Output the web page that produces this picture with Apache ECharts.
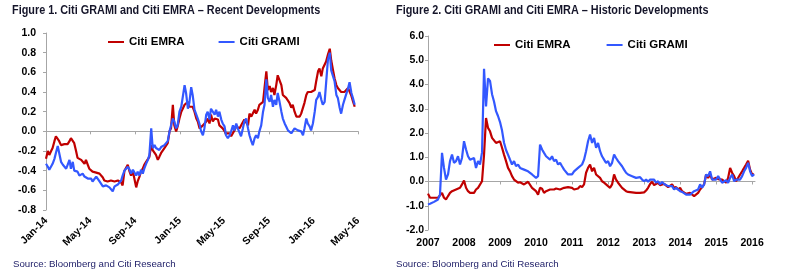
<!DOCTYPE html>
<html><head><meta charset="utf-8">
<script src="https://cdn.jsdelivr.net/npm/echarts@6/dist/echarts.min.js"></script>
<style>html,body{margin:0;padding:0;background:#fff}#c{width:786px;height:274px}</style>
</head><body><div id="c"></div>
<script>
// ---------- Figure 1: recent developments (x = days since 2014-01-01) ----------
const recentDays = [0,5,9,14,18,23,27,32,36,41,46,50,55,59,64,68,73,77,82,86,
91,96,100,105,109,114,118,123,127,132,137,141,146,150,155,159,164,168,173,177,
182,187,191,196,200,205,209,214,218,223,228,232,237,241,246,250,255,259,264,268,
273,278,282,287,291,296,300,305,309,314,319,323,328,332,337,341,346,350,355,359,
364,369,373,378,382,387,391,396,400,405,410,414,419,423,428,432,437,441,446,450,
455,460,464,469,473,478,482,487,491,496,501,505,510,514,519,523,528,532,537,541,
546,551,555,560,564,569,573,578,582,587,592,596,601,605,610,614,619,623,628,632,
637,642,646,651,655,660,664,669,673,678,683,687,692,696,701,705,710,714,719,723,
728,733,737,742,746,751,755,760,764,769,774,778,783,787,792,796,801,805,810,814,
819,824,828,833,837,842];
const recentEMRA = [-0.28,-0.20,-0.24,-0.20,-0.17,-0.10,-0.05,-0.06,-0.10,-0.14,
-0.12,-0.13,-0.11,-0.13,-0.10,-0.07,-0.07,-0.12,-0.20,-0.27,-0.26,-0.29,-0.28,-0.33,-0.29,
-0.34,-0.38,-0.39,-0.41,-0.43,-0.42,-0.41,-0.43,-0.44,-0.47,-0.50,-0.50,-0.51,-0.50,-0.50,
-0.51,-0.51,-0.50,-0.50,-0.52,-0.52,-0.55,
-0.40,-0.41,-0.34,-0.41,-0.45,-0.41,-0.48,-0.57,-0.51,-0.46,-0.41,-0.38,-0.34,-0.31,-0.29,
-0.26,-0.14,-0.19,-0.19,-0.24,-0.29,-0.26,-0.22,-0.21,-0.17,-0.17,-0.12,0.00,0.03,0.27,
0.06,0.00,0.05,0.13,0.20,0.23,0.27,0.25,0.30,0.25,0.24,0.25,0.20,0.13,0.10,0.03,0.03,0.06,
0.08,0.10,0.13,0.08,0.17,0.10,0.13,0.15,0.12,0.06,0.08,0.03,0.03,-0.02,-0.04,-0.02,
-0.05,-0.04,0.01,0.05,0.06,0.03,0.06,0.05,0.12,0.13,0.06,0.18,0.15,0.13,0.22,0.18,
0.22,0.27,0.25,0.30,0.44,0.61,0.42,0.46,0.40,0.44,0.37,0.47,0.57,0.59,0.47,0.37,
0.35,0.34,0.32,0.29,0.24,0.27,0.20,0.15,0.13,0.15,0.18,0.20,0.29,0.37,0.40,0.39,0.40,
0.39,0.42,0.51,0.61,0.64,0.56,0.64,0.63,0.71,0.78,0.84,0.72,0.62,0.54,0.47,0.44,0.42,
0.40,0.42,0.40,0.42,0.44,0.42,0.36,0.31,0.25];
const recentGRAMI = [-0.33,-0.36,-0.39,-0.38,-0.33,-0.28,-0.22,-0.15,-0.14,-0.31,
-0.34,-0.36,-0.38,-0.34,-0.29,-0.38,-0.31,-0.40,-0.41,-0.41,-0.45,-0.46,-0.43,-0.46,-0.46,
-0.48,-0.46,-0.48,-0.51,-0.50,-0.46,-0.48,-0.51,-0.51,-0.56,-0.58,-0.55,-0.56,-0.57,-0.58,
-0.61,-0.56,-0.55,-0.54,-0.53,-0.50,-0.45,
-0.40,-0.41,-0.36,-0.39,-0.43,-0.39,-0.41,-0.45,-0.41,-0.45,-0.39,-0.43,-0.38,-0.33,-0.29,
-0.24,0.03,-0.17,-0.14,-0.17,-0.16,-0.19,-0.16,-0.17,-0.14,-0.16,-0.10,0.00,0.06,0.13,
0.10,0.03,0.06,0.20,0.25,0.23,0.47,0.39,0.23,0.29,0.45,0.37,0.22,0.17,0.13,0.07,0.00,-0.04,
0.03,0.17,0.20,0.12,0.23,0.25,0.17,0.22,0.15,0.20,0.12,0.08,0.05,-0.04,-0.07,-0.04,
0.00,0.06,0.01,0.08,0.03,0.01,-0.05,0.03,0.10,0.13,0.03,-0.04,-0.10,-0.14,-0.07,-0.04,
-0.07,0.00,0.06,0.20,0.27,0.53,0.34,0.30,0.37,0.25,0.32,0.27,0.39,0.30,0.20,0.13,
0.08,0.05,0.01,0.03,-0.02,0.00,0.03,0.05,0.01,0.03,0.00,-0.04,0.03,0.13,0.08,0.05,0.01,
0.08,0.20,0.32,0.35,0.40,0.32,0.27,0.30,0.49,0.73,0.80,0.62,0.60,0.51,0.37,0.34,0.24,
0.18,0.27,0.32,0.34,0.44,0.50,0.39,0.34,0.27];
const recentTickDays = [0,120,243,365,485,608,730,851];
const recentTickLabels = ['Jan-14','May-14','Sep-14','Jan-15','May-15','Sep-15','Jan-16','May-16'];

// ---------- Figure 2: historic developments (x = decimal years) ----------
const histYears = [
2007.000,2007.056,2007.111,2007.167,2007.222,2007.278,2007.333,2007.389,2007.444,2007.500,2007.556,2007.611,2007.667,2007.722,2007.778,2007.833,2007.889,2007.944,
2008.000,2008.056,2008.111,2008.167,2008.222,2008.278,2008.333,2008.389,2008.444,2008.500,2008.556,2008.611,2008.667,2008.722,2008.778,2008.833,2008.889,2008.944,
2009.000,2009.056,2009.111,2009.167,2009.222,2009.278,2009.333,2009.389,2009.444,2009.500,2009.556,2009.611,2009.667,2009.722,2009.778,2009.833,2009.889,2009.944,
2010.000,2010.056,2010.111,2010.167,2010.222,2010.278,2010.333,2010.389,2010.444,2010.500,2010.556,2010.611,2010.667,2010.722,2010.778,2010.833,2010.889,2010.944,
2011.000,2011.056,2011.111,2011.167,2011.222,2011.278,2011.333,2011.389,2011.444,2011.500,2011.556,2011.611,2011.667,2011.722,2011.778,2011.833,2011.889,2011.944,
2012.000,2012.056,2012.111,2012.167,2012.222,2012.278,2012.333,2012.389,2012.444,2012.500,2012.556,2012.611,2012.667,2012.722,2012.778,2012.833,2012.889,2012.944,
2013.000,2013.056,2013.111,2013.167,2013.222,2013.278,2013.333,2013.389,2013.444,2013.500,2013.556,2013.611,2013.667,2013.722,2013.778,2013.833,2013.889,2013.944,
2014.000,2014.056,2014.111,2014.167,2014.222,2014.278,2014.333,2014.389,2014.444,2014.500,2014.556,2014.611,2014.667,2014.722,2014.778,2014.833,2014.889,2014.944,
2015.000,2015.056,2015.111,2015.167,2015.222,2015.278,2015.333,2015.389,2015.444,2015.500,2015.556,2015.611,2015.667,2015.722,2015.778,2015.833,2015.889,2015.944,
2016.000,2016.056];
const histEMRA = [-0.50,-0.67,-0.70,-0.67,-0.70,-0.67,-0.60,-0.47,-0.67,-0.74,
-0.60,-0.47,-0.40,-0.43,-0.33,-0.37,-0.26,-0.12,0.04,-0.26,
-0.40,-0.47,-0.54,-0.47,-0.33,-0.26,-0.30,0.01,1.11,2.62,
2.21,2.07,1.80,1.87,1.59,1.52,1.66,1.39,1.11,0.84,
0.56,0.42,0.22,0.08,0.01,-0.05,-0.03,-0.05,-0.12,-0.09,
-0.01,-0.08,-0.26,-0.33,-0.40,-0.54,-0.26,-0.30,-0.47,-0.40,
-0.37,-0.33,-0.37,-0.33,-0.29,-0.37,-0.33,-0.29,-0.26,-0.33,
-0.23,-0.29,-0.26,-0.33,-0.26,-0.29,-0.19,-0.23,-0.12,0.36,0.56,
0.70,0.42,0.56,0.29,0.36,0.15,0.01,-0.05,-0.12,-0.19,
-0.26,-0.12,0.29,0.08,-0.05,-0.12,-0.26,-0.33,-0.40,-0.43,
-0.47,-0.45,-0.51,-0.47,-0.45,-0.47,-0.40,-0.45,-0.37,-0.26,
-0.10,-0.01,-0.15,-0.12,-0.05,-0.15,-0.12,-0.10,-0.15,-0.23,-0.19,
-0.12,-0.26,-0.23,-0.33,-0.26,-0.40,-0.47,-0.51,-0.54,-0.47,
-0.54,-0.60,-0.60,-0.47,-0.33,-0.23,-0.12,0.29,0.15,0.29,
0.08,0.01,0.15,0.10,0.05,0.08,0.03,-0.05,0.15,0.56,
0.36,0.22,0.01,0.08,0.29,0.42,0.56,0.70,0.86,0.49,0.29,0.30];
const histGRAMI = [-0.95,-0.92,-0.95,-0.84,-0.88,-0.74,-0.54,1.18,0.56,0.08,
0.29,0.84,1.11,0.77,0.84,1.04,0.70,0.97,1.66,1.32,
1.04,0.90,0.84,0.97,0.56,0.84,0.70,1.20,4.65,3.10,
4.25,4.15,3.60,3.30,2.90,2.70,2.45,2.10,1.60,1.30,
1.11,0.90,0.70,0.84,0.63,0.70,0.56,0.63,0.49,0.56,
0.42,0.49,0.29,0.22,0.15,0.22,1.52,1.32,1.18,1.04,
1.11,0.90,1.04,0.84,0.90,0.70,0.77,0.63,0.49,0.42,
0.29,0.36,0.29,0.42,0.36,0.56,0.49,0.70,0.90,1.25,1.66,
1.94,1.59,1.80,1.39,1.59,1.25,1.04,0.90,0.77,0.84,
0.63,0.77,1.11,0.97,0.84,0.90,0.63,0.49,0.36,0.29,
0.32,0.22,0.29,0.15,0.08,0.18,0.08,0.01,0.08,-0.01,
0.08,0.01,0.08,-0.05,0.01,-0.12,-0.02,-0.10,-0.15,-0.19,-0.23,
-0.19,-0.33,-0.26,-0.29,-0.40,-0.43,-0.47,-0.54,-0.60,-0.54,
-0.47,-0.40,-0.47,-0.33,-0.12,-0.26,-0.12,0.29,0.22,0.42,
0.08,0.01,0.08,0.22,0.15,-0.05,0.00,0.05,-0.05,0.15,
0.29,0.01,0.08,0.15,0.08,0.22,0.42,0.56,0.77,0.42,0.22,0.30];
const histTickYears = [2007,2008,2009,2010,2011,2012,2013,2014,2015,2016];

const seriesNames = ['Citi EMRA','Citi GRAMI'];
const titleTexts = ['Figure 1. Citi GRAMI and Citi EMRA \u2013 Recent Developments',
                    'Figure 2. Citi GRAMI and Citi EMRA \u2013 Historic Developments'];
const sourceText = 'Source: Bloomberg and Citi Research';

// ---------- styling ----------
const RED = '#C00000', BLUE = '#3358FF', GRAY = '#A6A6A6';
const sans = '"Liberation Sans", Arial, sans-serif';
const lbl = {fontFamily: sans, fontWeight: 'bold', fontSize: 10.5, color: '#000'};
const pairs = (xs, ys) => xs.map((x, i) => [x, ys[i]]);

const chart = echarts.init(document.getElementById('c'), null, {renderer: 'canvas'});
const srcStyle = {fontFamily: sans, fontWeight: 'normal', fontSize: 9.7, color: '#1c1c66'};

function lineSeries(name, color, xi, yi, data) {
  return {name, type: 'line', xAxisIndex: xi, yAxisIndex: yi, data, symbol: 'none', showSymbol: false,
          lineStyle: {width: 2.2, color}, itemStyle: {color}, emphasis: {disabled: true}, z: name === 'Citi GRAMI' ? 3 : 2};
}
function legendAt(left, top, gap) {
  return {data: seriesNames, left, top, orient: 'horizontal', padding: 0, itemGap: gap,
          icon: 'rect', itemWidth: 16, itemHeight: 2,
          textStyle: {fontFamily: sans, fontWeight: 'bold', fontSize: 11.5, color: '#000'}};
}
// heading in a narrow (horizontally condensed) bold face, kept as real text
function heading(text, x) {
  return {type: 'text', x, y: 4, scaleX: 0.835, scaleY: 1, silent: true,
          style: {text, fontFamily: sans, fontWeight: 'bold', fontSize: 13, fill: '#15152a', verticalAlign: 'top'}};
}

chart.setOption({
  animation: false,
  backgroundColor: '#ffffff',
  graphic: [heading(titleTexts[0], 12), heading(titleTexts[1], 396)],
  title: [
    {text: sourceText, left: 13, top: 259, padding: 0, textStyle: srcStyle},
    {text: sourceText, left: 396, top: 259, padding: 0, textStyle: srcStyle}
  ],
  legend: [legendAt(108, 36, 34), legendAt(494, 39, 36)],
  grid: [
    {left: 46, top: 33, width: 312, height: 177},
    {left: 428, top: 36, width: 327, height: 194}
  ],
  xAxis: [
    {gridIndex: 0, type: 'value', min: 0, max: 851, position: 'bottom',
     axisLine: {show: false, onZero: false}, axisTick: {show: false}, splitLine: {show: false},
     axisLabel: Object.assign({customValues: recentTickDays, rotate: 45, margin: 9,
       formatter: v => { const i = recentTickDays.indexOf(v); return i >= 0 ? recentTickLabels[i] : ''; }}, lbl)},
    {gridIndex: 0, type: 'value', min: 0, max: 851, position: 'bottom',
     axisLine: {show: true, onZero: true, lineStyle: {color: GRAY, width: 1}},
     axisTick: {show: true, customValues: recentTickDays, length: 3, lineStyle: {color: GRAY}},
     axisLabel: {show: false}, splitLine: {show: false}},
    {gridIndex: 1, type: 'value', min: 2007, max: 2016.08, position: 'bottom',
     axisLine: {show: false, onZero: false}, axisTick: {show: false}, splitLine: {show: false},
     axisLabel: Object.assign({customValues: histTickYears, margin: 8,
       formatter: v => String(Math.round(v))}, lbl)},
    {gridIndex: 1, type: 'value', min: 2007, max: 2016.08, position: 'bottom',
     axisLine: {show: true, onZero: true, lineStyle: {color: GRAY, width: 1}},
     axisTick: {show: true, customValues: histTickYears, length: 3, lineStyle: {color: GRAY}},
     axisLabel: {show: false}, splitLine: {show: false}}
  ],
  yAxis: [
    {gridIndex: 0, type: 'value', min: -0.8, max: 1.0, interval: 0.2,
     axisLine: {show: true, onZero: false, lineStyle: {color: GRAY, width: 1}},
     axisTick: {show: true, length: 3, lineStyle: {color: GRAY}}, splitLine: {show: false},
     axisLabel: Object.assign({margin: 10, formatter: v => v.toFixed(1)}, lbl)},
    {gridIndex: 1, type: 'value', min: -2, max: 6, interval: 1,
     axisLine: {show: true, onZero: false, lineStyle: {color: GRAY, width: 1}},
     axisTick: {show: true, length: 3, lineStyle: {color: GRAY}}, splitLine: {show: false},
     axisLabel: Object.assign({margin: 4, formatter: v => v.toFixed(1)}, lbl)}
  ],
  series: [
    lineSeries(seriesNames[0], RED, 0, 0, pairs(recentDays, recentEMRA)),
    lineSeries(seriesNames[1], BLUE, 0, 0, pairs(recentDays, recentGRAMI)),
    lineSeries(seriesNames[0], RED, 2, 1, pairs(histYears, histEMRA)),
    lineSeries(seriesNames[1], BLUE, 2, 1, pairs(histYears, histGRAMI))
  ]
});
</script>
</body></html>
